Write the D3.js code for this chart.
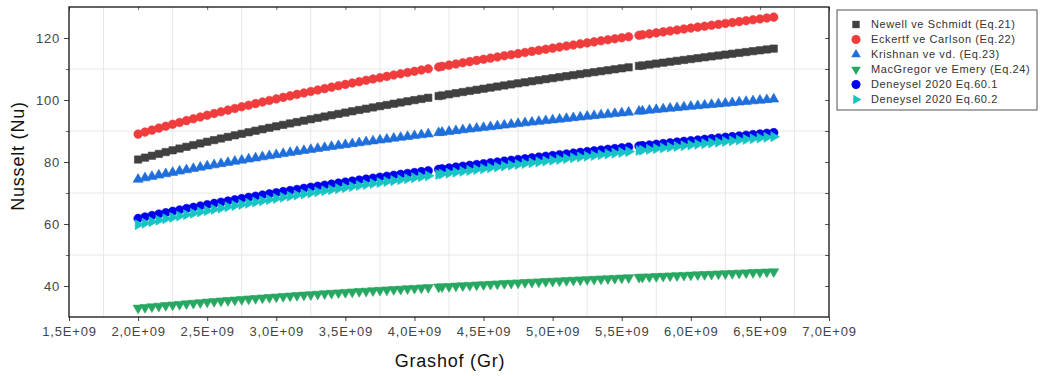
<!DOCTYPE html>
<html><head><meta charset="utf-8">
<script src="https://cdn.jsdelivr.net/npm/d3@7"></script>
<style>
html,body{margin:0;padding:0;background:#fff;}
svg{display:block;font-family:"Liberation Sans",Arial,Helvetica,sans-serif;}
</style></head><body>
<svg id="chart" width="1040" height="376"></svg>
<script>
// Grashof number, in units of 1E+09
const grashof = [
2.00,2.05,2.10,2.15,2.20,2.25,2.30,2.35,2.40,2.45,
2.50,2.55,2.60,2.65,2.70,2.75,2.80,2.85,2.90,2.95,
3.00,3.05,3.10,3.15,3.20,3.25,3.30,3.35,3.40,3.45,
3.50,3.55,3.60,3.65,3.70,3.75,3.80,3.85,3.90,3.95,
4.00,4.05,4.10,4.175,4.20,4.25,4.30,4.35,4.40,4.45,
4.50,4.55,4.60,4.65,4.70,4.75,4.80,4.85,4.90,4.95,
5.00,5.05,5.10,5.15,5.20,5.25,5.30,5.35,5.40,5.45,
5.50,5.55,5.625,5.65,5.70,5.75,5.80,5.85,5.90,5.95,
6.00,6.05,6.10,6.15,6.20,6.25,6.30,6.35,6.40,6.45,
6.50,6.55,6.60];
const GR_UNIT = 1e9;

const newellSchmidt = [
80.80,81.41,82.02,82.61,83.20,83.77,84.34,84.90,85.45,85.99,
86.53,87.06,87.58,88.09,88.60,89.10,89.59,90.08,90.56,91.04,
91.51,91.98,92.44,92.89,93.34,93.79,94.23,94.66,95.09,95.52,
95.94,96.36,96.78,97.19,97.60,98.00,98.40,98.80,99.19,99.58,
99.96,100.34,100.72,101.28,101.47,101.84,102.20,102.57,102.93,103.29,
103.64,103.99,104.34,104.69,105.03,105.37,105.71,106.05,106.38,106.72,
107.05,107.38,107.70,108.02,108.34,108.66,108.98,109.29,109.60,109.91,
110.22,110.53,110.99,111.14,111.44,111.74,112.04,112.34,112.63,112.92,
113.21,113.50,113.78,114.07,114.35,114.64,114.92,115.20,115.47,115.75,
116.02,116.30,116.57];

const eckertCarlson = [
89.00,89.65,90.29,90.92,91.55,92.16,92.76,93.35,93.94,94.51,
95.08,95.64,96.19,96.73,97.27,97.80,98.32,98.84,99.35,99.85,
100.35,100.84,101.33,101.81,102.28,102.75,103.22,103.68,104.14,104.59,
105.03,105.47,105.91,106.35,106.78,107.20,107.62,108.04,108.45,108.86,
109.27,109.67,110.07,110.66,110.86,111.25,111.63,112.01,112.39,112.77,
113.14,113.51,113.88,114.25,114.61,114.97,115.33,115.68,116.03,116.38,
116.73,117.07,117.41,117.75,118.09,118.43,118.76,119.09,119.42,119.75,
120.07,120.39,120.87,121.03,121.34,121.66,121.97,122.28,122.59,122.90,
123.20,123.51,123.81,124.11,124.40,124.70,124.99,125.29,125.58,125.87,
126.15,126.44,126.73];

const krishnan = [
74.40,74.86,75.31,75.75,76.19,76.62,77.05,77.46,77.87,78.27,
78.67,79.06,79.44,79.82,80.20,80.57,80.93,81.29,81.64,81.99,
82.34,82.68,83.01,83.35,83.68,84.00,84.32,84.64,84.95,85.26,
85.57,85.88,86.18,86.48,86.77,87.06,87.35,87.64,87.92,88.20,
88.48,88.75,89.02,89.43,89.56,89.83,90.09,90.35,90.61,90.87,
91.12,91.37,91.62,91.87,92.12,92.36,92.60,92.84,93.08,93.32,
93.55,93.79,94.02,94.25,94.47,94.70,94.93,95.15,95.37,95.59,
95.81,96.03,96.35,96.46,96.67,96.88,97.09,97.30,97.51,97.72,
97.92,98.12,98.32,98.52,98.72,98.92,99.12,99.32,99.51,99.70,
99.89,100.09,100.28];

const macGregorEmery = [
32.90,33.11,33.31,33.51,33.71,33.90,34.09,34.28,34.46,34.65,
34.83,35.01,35.18,35.35,35.51,35.68,35.85,36.01,36.17,36.33,
36.48,36.64,36.79,36.94,37.09,37.24,37.38,37.53,37.67,37.81,
37.95,38.09,38.22,38.36,38.49,38.62,38.75,38.88,39.01,39.14,
39.26,39.39,39.51,39.69,39.75,39.87,39.99,40.11,40.23,40.35,
40.46,40.57,40.68,40.80,40.91,41.02,41.13,41.24,41.35,41.46,
41.56,41.67,41.77,41.88,41.98,42.08,42.18,42.28,42.38,42.48,
42.58,42.68,42.83,42.88,42.97,43.07,43.16,43.26,43.35,43.45,
43.54,43.63,43.72,43.81,43.90,43.99,44.08,44.17,44.26,44.35,
44.43,44.52,44.61];

const deneysel601 = [
61.80,62.27,62.74,63.20,63.65,64.10,64.54,64.97,65.39,65.81,
66.23,66.64,67.04,67.43,67.82,68.21,68.59,68.97,69.34,69.71,
70.08,70.44,70.79,71.14,71.49,71.84,72.18,72.52,72.85,73.18,
73.51,73.83,74.15,74.47,74.78,75.09,75.40,75.71,76.01,76.31,
76.61,76.91,77.20,77.64,77.78,78.07,78.35,78.63,78.91,79.19,
79.46,79.73,80.00,80.27,80.54,80.81,81.07,81.33,81.59,81.85,
82.10,82.35,82.60,82.85,83.10,83.35,83.59,83.84,84.08,84.32,
84.56,84.80,85.15,85.27,85.50,85.73,85.96,86.19,86.42,86.65,
86.87,87.10,87.32,87.54,87.76,87.98,88.19,88.41,88.63,88.84,
89.05,89.26,89.47];

const deneysel602 = [
59.80,60.28,60.76,61.23,61.69,62.14,62.58,63.02,63.46,63.89,
64.31,64.72,65.13,65.54,65.94,66.33,66.72,67.11,67.49,67.87,
68.24,68.61,68.97,69.33,69.68,70.04,70.39,70.73,71.07,71.41,
71.74,72.08,72.41,72.73,73.05,73.37,73.69,74.00,74.31,74.62,
74.93,75.23,75.53,75.98,76.13,76.42,76.71,77.00,77.29,77.57,
77.85,78.13,78.41,78.69,78.96,79.23,79.50,79.77,80.04,80.31,
80.57,80.83,81.09,81.35,81.60,81.86,82.11,82.36,82.61,82.86,
83.10,83.35,83.71,83.83,84.07,84.31,84.55,84.79,85.02,85.25,
85.48,85.71,85.94,86.17,86.40,86.63,86.85,87.08,87.30,87.52,
87.74,87.96,88.17];

const seriesNames = [
  "Newell ve Schmidt (Eq.21)",
  "Eckertf ve Carlson (Eq.22)",
  "Krishnan ve vd. (Eq.23)",
  "MacGregor ve Emery (Eq.24)",
  "Deneysel 2020 Eq.60.1",
  "Deneysel 2020 Eq.60.2"
];
const seriesValues = [newellSchmidt, eckertCarlson, krishnan, macGregorEmery, deneysel601, deneysel602];

const xTickValues = [1.5,2.0,2.5,3.0,3.5,4.0,4.5,5.0,5.5,6.0,6.5,7.0];
const xTickLabels = ["1,5E+09","2,0E+09","2,5E+09","3,0E+09","3,5E+09","4,0E+09","4,5E+09","5,0E+09","5,5E+09","6,0E+09","6,5E+09","7,0E+09"];
const xGridValues = [1.75,2.25,2.75,3.25,3.75,4.25,4.75,5.25,5.75,6.25,6.75];
const yTickValues = [40,60,80,100,120];
const yTickLabels = ["40","60","80","100","120"];
const yMinorValues = [50,70,90,110];
const xTitle = "Grashof (Gr)";
const yTitle = "Nusselt (Nu)";

// ---- styling (kept apart from the data) ----
const styles = [
  {color:"#404040", shape:"square",   size:54, legendSize:54},
  {color:"#f03c3c", shape:"circle",   size:58, legendSize:64},
  {color:"#1e6fdc", shape:"triUp",    size:44, legendSize:40},
  {color:"#27a862", shape:"triDown",  size:44, legendSize:40},
  {color:"#0000f0", shape:"circle",   size:58, legendSize:64},
  {color:"#17c4c4", shape:"triRight", size:44, legendSize:40}
];
const M = {left:69, right:829, top:7, bottom:317};

const svg = d3.select("#chart");
const x = d3.scaleLinear().domain([1.5*GR_UNIT, 7.0*GR_UNIT]).range([M.left, M.right]);
const y = d3.scaleLinear().domain([30,130]).range([M.bottom, M.top]);

function symbolPath(shape, size){
  const type = shape === "square" ? d3.symbolSquare : shape === "circle" ? d3.symbolCircle : d3.symbolTriangle;
  return d3.symbol().type(type).size(size)();
}
function rot(shape){ return shape === "triDown" ? 180 : shape === "triRight" ? 90 : 0; }

// grid
const grid = svg.append("g");
grid.selectAll("line.gx").data(xGridValues).join("line")
  .attr("x1", d => x(d*GR_UNIT)).attr("x2", d => x(d*GR_UNIT))
  .attr("y1", M.top).attr("y2", M.bottom)
  .attr("stroke", "#e8e8e8").attr("stroke-width", 1);
grid.selectAll("line.gy").data(yMinorValues).join("line")
  .attr("x1", M.left).attr("x2", M.right)
  .attr("y1", d => y(d)).attr("y2", d => y(d))
  .attr("stroke", "#e8e8e8").attr("stroke-width", 1);

// data
const plot = svg.append("g");
seriesValues.forEach((vals, si) => {
  const st = styles[si];
  const path = symbolPath(st.shape, st.size);
  plot.append("g").selectAll("path").data(vals).join("path")
    .attr("d", path)
    .attr("transform", (d, i) => `translate(${x(grashof[i]*GR_UNIT)},${y(d)}) rotate(${rot(st.shape)})`)
    .attr("fill", st.color)
    .attr("stroke", st.color).attr("stroke-width", 0.6);
});

// axes
const tickFont = 13;
const xAxis = svg.append("g").attr("transform", `translate(0,${M.bottom})`)
  .call(d3.axisBottom(x).tickValues(xTickValues.map(v => v*GR_UNIT))
    .tickFormat((d, i) => xTickLabels[i]).tickSize(4).tickPadding(6));
xAxis.select(".domain").remove();
xAxis.selectAll(".tick line").attr("stroke", "#444");
xAxis.selectAll(".tick text").attr("font-size", tickFont).attr("fill", "#444")
  .attr("font-family", '"Liberation Sans",Arial,sans-serif').style("letter-spacing", "0.8px");

const yAxis = svg.append("g").attr("transform", `translate(${M.left},0)`)
  .call(d3.axisLeft(y).tickValues(yTickValues).tickFormat((d, i) => yTickLabels[i]).tickSize(5).tickPadding(4));
yAxis.select(".domain").remove();
yAxis.selectAll(".tick line").attr("stroke", "#444");
yAxis.selectAll(".tick text").attr("font-size", tickFont).attr("fill", "#444")
  .attr("font-family", '"Liberation Sans",Arial,sans-serif').style("letter-spacing", "0.8px");

const yMinor = svg.append("g").attr("transform", `translate(${M.left},0)`)
  .call(d3.axisLeft(y).tickValues(yMinorValues).tickFormat("").tickSize(3));
yMinor.select(".domain").remove();
yMinor.selectAll(".tick line").attr("stroke", "#666");

// top and right inner ticks
const topAxis = svg.append("g").attr("transform", `translate(0,${M.top})`)
  .call(d3.axisTop(x).tickValues(xTickValues.map(v => v*GR_UNIT)).tickFormat("").tickSize(-3));
topAxis.select(".domain").remove();
topAxis.selectAll(".tick line").attr("stroke", "#666");
const rightAxis = svg.append("g").attr("transform", `translate(${M.right},0)`)
  .call(d3.axisRight(y).tickValues(yTickValues.concat(yMinorValues)).tickFormat("").tickSize(-4));
rightAxis.select(".domain").remove();
rightAxis.selectAll(".tick line").attr("stroke", "#555");

// frame
svg.append("rect").attr("x", M.left).attr("y", M.top)
  .attr("width", M.right - M.left).attr("height", M.bottom - M.top)
  .attr("fill", "none").attr("stroke", "#111").attr("stroke-width", 1.3);

// titles
svg.append("text").attr("x", (M.left + M.right)/2 + 1).attr("y", 367)
  .attr("text-anchor", "middle").attr("font-size", 18).attr("fill", "#111")
  .style("letter-spacing", "0.8px").text(xTitle);
svg.append("text").attr("transform", "translate(24,156) rotate(-90)")
  .attr("text-anchor", "middle").attr("font-size", 18).attr("fill", "#111")
  .style("letter-spacing", "0.8px").text(yTitle);

// legend
const lg = svg.append("g").attr("transform", "translate(837,10)");
lg.append("rect").attr("x", 0).attr("y", 0).attr("width", 200).attr("height", 100)
  .attr("fill", "#fff").attr("stroke", "#555").attr("stroke-width", 1);
seriesNames.forEach((name, i) => {
  const st = styles[i];
  const cy = 14.5 + i*15;
  lg.append("path").attr("d", symbolPath(st.shape, st.legendSize))
    .attr("transform", `translate(19,${cy}) rotate(${rot(st.shape)})`).attr("fill", st.color);
  lg.append("text").attr("x", 34).attr("y", cy).attr("dy", "0.35em")
    .attr("font-size", 11).attr("fill", "#333").style("letter-spacing", "0.6px").text(name);
});
</script>
</body></html>
